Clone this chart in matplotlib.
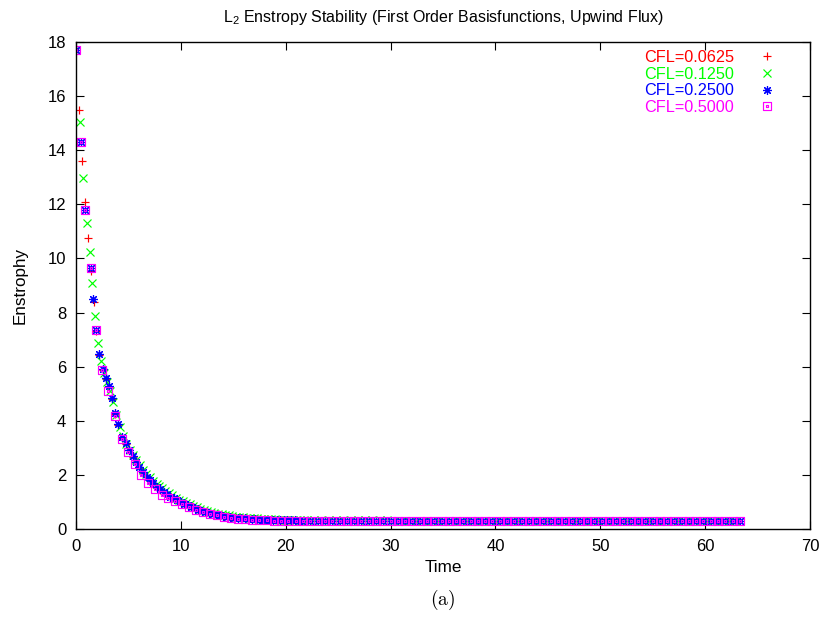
import matplotlib
matplotlib.use("Agg")
import matplotlib.pyplot as plt
from matplotlib.path import Path

plt.rcParams['font.family'] = ['Liberation Sans', 'DejaVu Sans']
plt.rcParams['mathtext.fontset'] = 'custom'
plt.rcParams['mathtext.rm'] = 'Liberation Sans'
plt.rcParams['mathtext.it'] = 'Liberation Sans'

# ---------------- data ----------------
labels = ["CFL=0.0625", "CFL=0.1250", "CFL=0.2500", "CFL=0.5000"]

t_red = [0.0, 0.31, 0.54, 0.86, 1.17, 1.45, 1.67, 1.9, 2.24, 2.56,
         2.88, 3.19, 3.48, 3.74, 4.05, 4.38, 4.76, 5.1, 5.42, 5.74,
         6.05, 6.38, 6.76, 7.07, 7.39, 7.71, 8.04, 8.37, 8.7, 9.03,
         9.36, 9.69, 10.02, 10.35, 10.69, 11.02, 11.36, 11.69, 12.03, 12.37,
         12.71, 13.05, 13.39, 13.73, 14.07, 14.41, 14.75, 15.09, 15.43, 15.77,
         16.11, 16.45, 16.79, 17.13, 17.47, 17.81, 18.15, 18.49, 18.83, 19.17,
         19.51, 19.85, 20.19, 20.53, 20.87, 21.21, 21.55,
         22.36, 23.75, 25.14, 26.53, 27.92, 29.30, 30.69, 32.08, 33.47, 34.86,
         36.24, 37.63, 39.02, 40.41, 41.80, 43.18, 44.57, 45.96, 47.35, 48.74,
         50.12, 51.51, 52.90, 54.29, 55.68, 57.06, 58.45, 59.84, 61.23, 62.62]
e_red = [17.7, 15.47, 13.6, 12.1, 10.74, 9.55, 8.4, 7.3, 6.42, 5.87,
         5.55, 5.24, 4.8, 4.25, 3.85, 3.38, 3.15, 2.91, 2.67, 2.48,
         2.27, 2.08, 1.93, 1.80, 1.68, 1.56, 1.45, 1.36, 1.27, 1.19,
         1.12, 1.05, 0.98, 0.92, 0.86, 0.81, 0.76, 0.71, 0.67, 0.63,
         0.59, 0.56, 0.53, 0.50, 0.48, 0.46, 0.44, 0.42, 0.41, 0.40,
         0.39, 0.38, 0.37, 0.36, 0.35, 0.35, 0.34, 0.34, 0.33, 0.33,
         0.33, 0.32, 0.32, 0.32, 0.32, 0.31, 0.31,
         0.31, 0.31, 0.31, 0.31, 0.31, 0.31, 0.30, 0.30, 0.30, 0.30,
         0.30, 0.30, 0.30, 0.30, 0.30, 0.30, 0.30, 0.29, 0.29, 0.29,
         0.29, 0.29, 0.29, 0.29, 0.28, 0.28, 0.28, 0.28, 0.28, 0.28]

t_green = [0.0, 0.38, 0.7, 1.02, 1.33, 1.55, 1.81, 2.13, 2.38, 2.66,
           2.96, 3.26, 3.56, 3.86, 4.17, 4.48, 4.8, 5.12, 5.44, 5.76,
           6.08, 6.4, 6.72, 7.04, 7.36, 7.68, 7.94,
           8.19, 8.52, 8.85, 9.18, 9.51, 9.84, 10.17, 10.5, 10.84, 11.17,
           11.51, 11.84, 12.18, 12.52, 12.86, 13.2, 13.54, 13.88, 14.22, 14.56,
           14.9, 15.24, 15.58, 15.92, 16.26, 16.6, 16.94, 17.28, 17.62, 17.96,
           18.3, 18.64, 18.98, 19.32, 19.66, 20.0, 20.34, 20.68, 21.02, 21.36, 21.7,
           22.02, 22.71, 23.41, 24.10, 24.80, 25.49, 26.18, 26.88, 27.57, 28.27,
           28.96, 29.65, 30.35, 31.04, 31.74, 32.43, 33.12, 33.82, 34.51, 35.21,
           35.90, 36.59, 37.29, 37.98, 38.68, 39.37, 40.06, 40.76, 41.45, 42.15,
           42.84, 43.53, 44.23, 44.92, 45.62, 46.31, 47.00, 47.70, 48.39, 49.09,
           49.78, 50.47, 51.17, 51.86, 52.56, 53.25, 53.94, 54.64, 55.33, 56.03,
           56.72, 57.41, 58.11, 58.80, 59.50, 60.19, 60.88, 61.58, 62.27, 62.97]
e_green = [17.7, 15.06, 12.96, 11.3, 10.23, 9.1, 7.86, 6.88, 6.2, 5.75,
           5.45, 5.1, 4.7, 4.2, 3.78, 3.42, 3.15, 2.92, 2.72, 2.54,
           2.36, 2.19, 2.04, 1.91, 1.79, 1.67, 1.58,
           1.50, 1.41, 1.32, 1.24, 1.16, 1.09, 1.03, 0.97, 0.91, 0.85,
           0.80, 0.75, 0.71, 0.67, 0.63, 0.60, 0.57, 0.54, 0.52, 0.50,
           0.48, 0.46, 0.45, 0.43, 0.42, 0.41, 0.40, 0.39, 0.38, 0.37,
           0.37, 0.36, 0.36, 0.35, 0.35, 0.34, 0.34, 0.34, 0.33, 0.33, 0.33,
           0.32, 0.32, 0.32, 0.32, 0.32, 0.32, 0.32, 0.32, 0.32, 0.32,
           0.32, 0.32, 0.31, 0.31, 0.31, 0.31, 0.31, 0.31, 0.31, 0.31,
           0.31, 0.31, 0.31, 0.31, 0.31, 0.31, 0.31, 0.31, 0.31, 0.31,
           0.31, 0.31, 0.31, 0.31, 0.30, 0.30, 0.30, 0.30, 0.30, 0.30,
           0.30, 0.30, 0.30, 0.30, 0.30, 0.30, 0.30, 0.29, 0.29, 0.29,
           0.29, 0.29, 0.29, 0.29, 0.29, 0.29, 0.29, 0.29, 0.29, 0.29]

t_blue = [0.0, 0.45, 0.86, 1.43, 1.65, 1.88, 2.22, 2.54, 2.86, 3.17,
          3.46, 3.72, 4.03, 4.36, 4.74, 5.08, 5.4, 5.72, 6.03, 6.36,
          6.74, 7.05, 7.37, 7.69, 8.02, 8.35, 8.68, 9.01, 9.34, 9.67,
          10.0, 10.33, 10.67, 11.0, 11.34, 11.67, 12.01, 12.35, 12.69, 13.03,
          13.37, 13.71, 14.05, 14.39, 14.73, 15.07, 15.41, 15.75, 16.09, 16.43,
          16.77, 17.11, 17.45, 17.79, 18.13, 18.47, 18.81, 19.15, 19.49, 19.83,
          20.17, 20.51, 20.85, 21.19, 21.53,
          22.36, 23.06, 23.75, 24.45, 25.14, 25.83, 26.53, 27.22, 27.92, 28.61,
          29.30, 30.00, 30.69, 31.39, 32.08, 32.77, 33.47, 34.16, 34.86, 35.55,
          36.24, 36.94, 37.63, 38.33, 39.02, 39.71, 40.41, 41.10, 41.80, 42.49,
          43.18, 43.88, 44.57, 45.27, 45.96, 46.65, 47.35, 48.04, 48.74, 49.43,
          50.12, 50.82, 51.51, 52.21, 52.90, 53.59, 54.29, 54.98, 55.68, 56.37,
          57.06, 57.76, 58.45, 59.15, 59.84, 60.53, 61.23, 61.92, 62.62, 63.31]
e_blue = [17.7, 14.3, 11.8, 9.65, 8.5, 7.37, 6.48, 5.91, 5.58, 5.27,
          4.84, 4.28, 3.88, 3.40, 3.17, 2.93, 2.68, 2.49, 2.28, 2.09,
          1.94, 1.81, 1.69, 1.57, 1.46, 1.37, 1.28, 1.20, 1.13, 1.06,
          0.99, 0.93, 0.87, 0.81, 0.76, 0.71, 0.67, 0.63, 0.59, 0.56,
          0.53, 0.50, 0.48, 0.46, 0.44, 0.42, 0.41, 0.40, 0.39, 0.38,
          0.37, 0.36, 0.35, 0.35, 0.34, 0.34, 0.33, 0.33, 0.33, 0.32,
          0.32, 0.32, 0.32, 0.31, 0.31,
          0.31, 0.31, 0.31, 0.31, 0.31, 0.31, 0.31, 0.31, 0.31, 0.31,
          0.31, 0.31, 0.30, 0.30, 0.30, 0.30, 0.30, 0.30, 0.30, 0.30,
          0.30, 0.30, 0.30, 0.30, 0.30, 0.30, 0.30, 0.30, 0.30, 0.30,
          0.30, 0.30, 0.30, 0.30, 0.29, 0.29, 0.29, 0.29, 0.29, 0.29,
          0.29, 0.29, 0.29, 0.29, 0.29, 0.29, 0.29, 0.28, 0.28, 0.28,
          0.28, 0.28, 0.28, 0.28, 0.28, 0.28, 0.28, 0.28, 0.28, 0.28]

t_mag = [0.0, 0.45, 0.9, 1.43, 1.91, 2.51, 3.08, 3.72, 4.36, 4.99,
         5.63, 6.23, 6.9, 7.53,
         8.17, 8.81, 9.46, 10.11, 10.77, 11.43, 12.09, 12.76, 13.43, 14.1,
         14.77, 15.45, 16.13, 16.81, 17.49, 18.17, 18.86, 19.55, 20.24, 20.95,
         21.67, 22.36, 23.06, 23.75, 24.45, 25.14, 25.83, 26.53, 27.22, 27.92,
         28.61, 29.30, 30.00, 30.69, 31.39, 32.08, 32.77, 33.47, 34.16, 34.86,
         35.55, 36.24, 36.94, 37.63, 38.33, 39.02, 39.71, 40.41, 41.10, 41.80,
         42.49, 43.18, 43.88, 44.57, 45.27, 45.96, 46.65, 47.35, 48.04, 48.74,
         49.43, 50.12, 50.82, 51.51, 52.21, 52.90, 53.59, 54.29, 54.98, 55.68,
         56.37, 57.06, 57.76, 58.45, 59.15, 59.84, 60.53, 61.23, 61.92, 62.62, 63.31]
e_mag = [17.7, 14.3, 11.8, 9.65, 7.37, 5.86, 5.09, 4.16, 3.33, 2.86,
         2.41, 2.0, 1.71, 1.47,
         1.26, 1.13, 1.02, 0.92, 0.81, 0.71, 0.63, 0.56, 0.50, 0.45,
         0.41, 0.38, 0.36, 0.34, 0.33, 0.32, 0.31, 0.31, 0.31, 0.31,
         0.31, 0.31, 0.31, 0.31, 0.31, 0.31, 0.31, 0.31, 0.31, 0.31,
         0.31, 0.31, 0.31, 0.30, 0.30, 0.30, 0.30, 0.30, 0.30, 0.30,
         0.30, 0.30, 0.30, 0.30, 0.30, 0.30, 0.30, 0.30, 0.30, 0.30,
         0.30, 0.30, 0.30, 0.30, 0.30, 0.29, 0.29, 0.29, 0.29, 0.29,
         0.29, 0.29, 0.29, 0.29, 0.29, 0.29, 0.29, 0.29, 0.28, 0.28,
         0.28, 0.28, 0.28, 0.28, 0.28, 0.28, 0.28, 0.28, 0.28, 0.28, 0.28]

x_ticks = [0, 10, 20, 30, 40, 50, 60, 70]
y_ticks = [0, 2, 4, 6, 8, 10, 12, 14, 16, 18]

# ---------------- style ----------------
colors = ['#ff0000', '#00ff00', '#0000ff', '#ff00ff']
box_dot = Path([(-1, -1), (1, -1), (1, 1), (-1, 1), (-1, -1),
                (-0.12, -0.12), (0.12, -0.12), (0.12, 0.12), (-0.12, 0.12), (-0.12, -0.12)],
               [Path.MOVETO, Path.LINETO, Path.LINETO, Path.LINETO, Path.CLOSEPOLY,
                Path.MOVETO, Path.LINETO, Path.LINETO, Path.LINETO, Path.CLOSEPOLY])
markers = ['+', 'x', (8, 2, 0), box_dot]
msizes = [6.3, 5.5, 6.3, 6.2]

W, H = 826, 619
fig = plt.figure(figsize=(W / 100, H / 100), dpi=100)
L, R, B, T = 76, 810, 529, 42
ax = fig.add_axes([L / W, 1 - B / H, (R - L) / W, (B - T) / H])

series = [(t_red, e_red), (t_green, e_green), (t_blue, e_blue), (t_mag, e_mag)]
handles = []
for (tt, ee), c, m, ms, lab in zip(series, colors, markers, msizes, labels):
    h, = ax.plot(tt, ee, linestyle='none', marker=m, markersize=ms,
                 markeredgecolor=c, markerfacecolor='none', markeredgewidth=0.85,
                 color=c, label=lab)
    handles.append(h)

ax.set_xlim(0, 70)
ax.set_ylim(0, 18)
ax.set_xticks(x_ticks)
ax.set_yticks(y_ticks)
ax.tick_params(direction='in', length=6, width=0.8, top=True, right=True,
               labelsize=12, colors='black')
ax.tick_params(axis='x', pad=7)
ax.tick_params(axis='y', pad=7)
for s in ax.spines.values():
    s.set_linewidth(1.0)

leg = ax.legend(handles=handles, loc='upper right',
                bbox_to_anchor=((775 - L) / (R - L), (B - 50) / (B - T)),
                frameon=False, markerfirst=False, labelcolor='linecolor',
                fontsize=11.7, handlelength=1.0, handletextpad=1.5,
                borderpad=0, borderaxespad=0, labelspacing=0.1, numpoints=1)

fig.text((L + R) / 2 / W, 1 - 17.5 / H,
         r'L$_2$ Enstropy Stability (First Order Basisfunctions, Upwind Flux)',
         ha='center', va='center', fontsize=11.5)
fig.text((L + R) / 2 / W, 1 - 568 / H, 'Time', ha='center', va='center', fontsize=12.3)
fig.text(20 / W, 1 - 285 / H, 'Enstrophy', ha='center', va='center',
         rotation=90, fontsize=12.3)
fig.text((L + R) / 2 / W, 1 - 600 / H, r'$\mathrm{(a)}$', ha='center', va='center',
         fontsize=14, math_fontfamily='cm')

fig.savefig('out.png', dpi=100)
